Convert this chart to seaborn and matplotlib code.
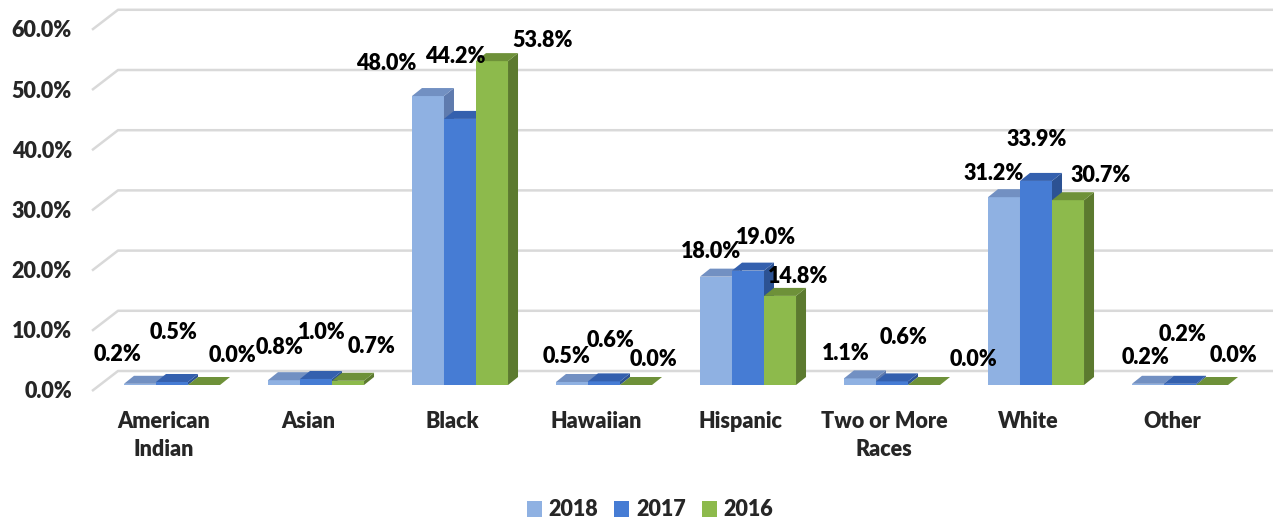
import matplotlib
matplotlib.use("Agg")
import matplotlib.pyplot as plt
import numpy as np
import pandas as pd
import seaborn as sns
from matplotlib.patches import Polygon, Patch
from matplotlib.transforms import blended_transform_factory, ScaledTranslation

# ---- data -------------------------------------------------------------
categories = ["American\nIndian", "Asian", "Black", "Hawaiian", "Hispanic",
              "Two or More\nRaces", "White", "Other"]
years = ["2018", "2017", "2016"]
share_2018 = [0.2, 0.8, 48.0, 0.5, 18.0, 1.1, 31.2, 0.2]
share_2017 = [0.5, 1.0, 44.2, 0.6, 19.0, 0.6, 33.9, 0.2]
share_2016 = [0.0, 0.7, 53.8, 0.0, 14.8, 0.0, 30.7, 0.0]
y_ticks = [0, 10, 20, 30, 40, 50, 60]

# ---- styling ----------------------------------------------------------
front_colors = {"2018": "#8FB1E2", "2017": "#467CD4", "2016": "#8DBA4C"}
top_colors = {"2018": "#7290C2", "2017": "#3460AE", "2016": "#6E9139"}
side_colors = {"2018": "#5F7BAE", "2017": "#2C5293", "2016": "#5C7A2F"}
grid_color = "#D9D9D9"

# label placement (pixels, relative to the front-top centre of each bar)
label_offsets = {
    "2018": [(-22, 29), (-4, 33), (-42, 33), (-5, 25), (-5, 25), (-14, 25), (-10, 24), (-2, 26)],
    "2017": [(2, 49), (6, 46), (-5, 62), (7, 41), (18, 33), (12, 44), (1, 41), (3, 49)],
    "2016": [(28, 30), (24, 34), (51, 21), (17, 25), (18, 19), (49, 25), (33, 25), (21, 30)],
}

sns.set_style("white")
plt.rcParams["font.family"] = ["Lato", "DejaVu Sans"]
plt.rcParams["font.weight"] = "heavy"
FS = 15.5
WEIGHT = "heavy"

W, H, DPI = 1273, 523, 100
fig = plt.figure(figsize=(W / DPI, H / DPI), dpi=DPI)
ax_left, ax_bottom, ax_w, ax_h = 100, 138, 1152, 361.2
ax = fig.add_axes([ax_left / W, ax_bottom / H, ax_w / W, ax_h / H])

df = pd.DataFrame({
    "category": categories * 3,
    "year": [y for y in years for _ in categories],
    "share": share_2018 + share_2017 + share_2016,
})

sns.barplot(data=df, x="category", y="share", hue="year", order=categories,
            hue_order=years, palette=front_colors, width=0.667, saturation=1,
            legend=False, ax=ax, linewidth=0, edgecolor="none", errorbar=None)

ax.set_xlim(-0.5, 7.5)
ax.set_ylim(0, 60)
for s in ax.spines.values():
    s.set_visible(False)
ax.set_xlabel("")
ax.set_ylabel("")

# pixel -> data conversion factors
PX_Y = 60 / ax_h
PX_X = 8 / ax_w

# back wall gridlines with the receding left edge
trans = blended_transform_factory(ax.transAxes, ax.transData)
x_front = (92 - ax_left) / ax_w
x_back = (118 - ax_left) / ax_w
x_end = (W - ax_left) / ax_w
for v in y_ticks:
    ax.plot([x_front, x_back, x_end],
            [v - 6 * PX_Y, v + 14 * PX_Y, v + 14 * PX_Y],
            transform=trans, color=grid_color, lw=1.8, clip_on=False,
            zorder=0, solid_capstyle="butt")

# depth faces for each bar
ddx = 10 * PX_X
ddy = 8 * PX_Y
for k, (year, cont) in enumerate(zip(years, ax.containers)):
    values = df.loc[df.year == year, "share"].to_numpy()
    for i, bar in enumerate(cont):
        bar.set_zorder(2 + k)
        x0, w, h = bar.get_x(), bar.get_width(), bar.get_height()
        top = Polygon([(x0, h), (x0 + w, h), (x0 + w + ddx, h + ddy), (x0 + ddx, h + ddy)],
                      closed=True, facecolor=top_colors[year], edgecolor="none",
                      zorder=2 + k + 0.5, clip_on=False)
        side = Polygon([(x0 + w, 0), (x0 + w, h), (x0 + w + ddx, h + ddy), (x0 + w + ddx, ddy)],
                       closed=True, facecolor=side_colors[year], edgecolor="none",
                       zorder=2 + k + 0.5, clip_on=False)
        ax.add_patch(side)
        ax.add_patch(top)
        dx, dy = label_offsets[year][i]
        ax.annotate(f"{values[i]:.1f}%", (x0 + w / 2, h), xytext=(dx, dy),
                    textcoords="offset pixels", ha="center", va="center",
                    fontsize=FS, fontweight=WEIGHT, color="black",
                    zorder=10, annotation_clip=False)

# y axis labels
ax.set_yticks(y_ticks)
ax.set_yticklabels([f"{v:.1f}%" for v in y_ticks])
ax.tick_params(axis="y", length=0, pad=28 * 0.72, labelsize=FS)
for lab in ax.get_yticklabels():
    lab.set_fontweight(WEIGHT)
    lab.set_transform(lab.get_transform() + ScaledTranslation(0, -5 / DPI, fig.dpi_scale_trans))

# x axis labels
ax.set_xticks(range(len(categories)))
ax.set_xticklabels(categories)
ax.tick_params(axis="x", length=0, pad=19, labelsize=FS)
for lab in ax.get_xticklabels():
    lab.set_fontweight(WEIGHT)
    lab.set_linespacing(1.38)
    lab.set_transform(lab.get_transform() + ScaledTranslation(-8 / DPI, 0, fig.dpi_scale_trans))

ax.grid(False)

handles = [Patch(facecolor=front_colors[y], edgecolor="none", label=y) for y in years]
fig.legend(handles=handles, loc="center", bbox_to_anchor=(650 / W, 1 - 510 / H),
           ncol=3, frameon=False, handlelength=0.7, handleheight=0.7,
           handletextpad=0.3, columnspacing=0.75, prop={"size": FS, "weight": WEIGHT})

fig.savefig("out.png", dpi=DPI, facecolor="white")
